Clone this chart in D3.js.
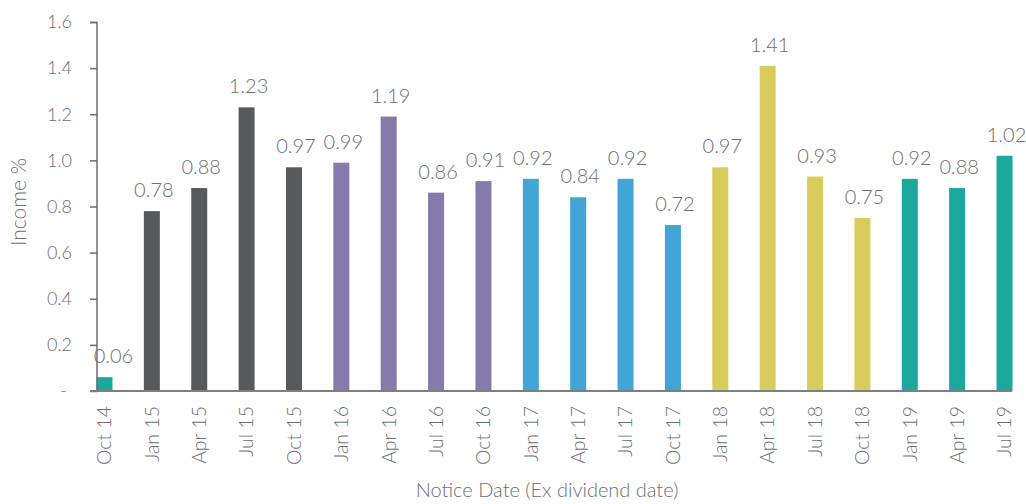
<!DOCTYPE html>
<html><head><meta charset="utf-8">
<script src="https://cdn.jsdelivr.net/npm/d3@7"></script>
<style>
body{margin:0;background:#fff;}
text{font-family:Lato, "Open Sans", sans-serif;font-weight:300;fill:#6d6e71;}
</style></head>
<body><svg id="c" width="1026" height="504"></svg>
<script>
const categories = ["Oct 14","Jan 15","Apr 15","Jul 15","Oct 15","Jan 16","Apr 16","Jul 16","Oct 16","Jan 17","Apr 17","Jul 17","Oct 17","Jan 18","Apr 18","Jul 18","Oct 18","Jan 19","Apr 19","Jul 19"];
const values = [0.06,0.78,0.88,1.23,0.97,0.99,1.19,0.86,0.91,0.92,0.84,0.92,0.72,0.97,1.41,0.93,0.75,0.92,0.88,1.02];
const groups = ["g14","g15","g15","g15","g15","g16","g16","g16","g16","g17","g17","g17","g17","g18","g18","g18","g18","g19","g19","g19"];
const groupColors = {g14:"#1ba89e",g15:"#58595b",g16:"#8679ab",g17:"#42a5d5",g18:"#d8cd5c",g19:"#1ba89e"};
const yTicks = [0,0.2,0.4,0.6,0.8,1.0,1.2,1.4,1.6];
const yTitle = "Income %";
const xTitle = "Notice Date (Ex dividend date)";

const svg = d3.select("#c");
const x = d3.scaleBand().domain(categories).range([80.8, 1028.2]);
const y = d3.scaleLinear().domain([0,1.6]).range([391,22]);
const bw = 16;
const cx = c => x(c) + x.bandwidth()/2;

// bars
svg.append("g").selectAll("rect").data(values).join("rect")
  .attr("x",(d,i)=>cx(categories[i]) - bw/2)
  .attr("y",d=>y(d))
  .attr("width",bw)
  .attr("height",d=>y(0)-y(d))
  .attr("fill",(d,i)=>groupColors[groups[i]]);

// value labels
svg.append("g").selectAll("text").data(values).join("text")
  .attr("x",(d,i)=>cx(categories[i]) + (i===0?9:2))
  .attr("y",d=>y(d)-14)
  .attr("text-anchor","middle")
  .style("font-size","20px")
  .text(d=>d.toFixed(2));

// y axis
const yAxis = d3.axisLeft(y).tickValues(yTicks).tickSize(7).tickPadding(18)
  .tickFormat(d=> d===0 ? "-" : d3.format(".1f")(d));
const gy = svg.append("g").attr("transform","translate(97,0)").call(yAxis);
gy.select(".domain").attr("stroke","#6d6e71").attr("stroke-width",1.5).attr("d","M-7,22.5H0V391");
gy.selectAll(".tick line").attr("stroke","#6d6e71").attr("stroke-width",1.5);
gy.selectAll(".tick text").style("font-size","18px").style("font-family","Lato, sans-serif").attr("fill","#6d6e71");
gy.selectAll(".tick").filter(d=>d===0).select("text").attr("dx","-5");

// baseline
const xAxis = d3.axisBottom(x).tickSize(0).tickPadding(0);
const gx = svg.append("g").attr("transform","translate(0,391)").call(xAxis);
gx.select(".domain").attr("stroke","#7f7f7f").attr("stroke-width",2).attr("d","M90,0H1012");
gx.selectAll(".tick text")
  .style("font-size","19.5px").style("font-family","Lato, sans-serif").attr("fill","#6d6e71")
  .attr("text-anchor","end")
  .attr("transform","rotate(-90)")
  .attr("x",-15).attr("y",0).attr("dy","0.35em");

// titles
svg.append("text").attr("transform","translate(26,202) rotate(-90)")
  .attr("text-anchor","middle").style("font-size","21px").text(yTitle);
svg.append("text").attr("x",547).attr("y",497)
  .attr("text-anchor","middle").style("font-size","20px").text(xTitle);
</script></body></html>
